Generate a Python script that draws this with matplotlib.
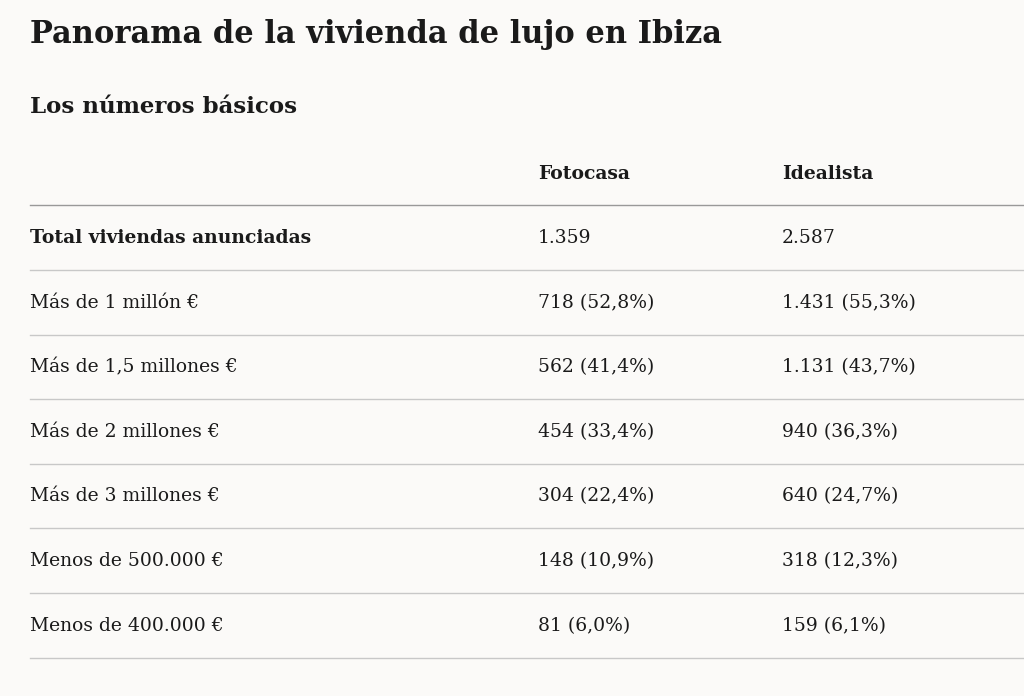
import matplotlib
matplotlib.use("Agg")
import matplotlib.pyplot as plt
from matplotlib.lines import Line2D

title = "Panorama de la vivienda de lujo en Ibiza"
subtitle = "Los números básicos"
columns = ["Fotocasa", "Idealista"]
rows = ["Total viviendas anunciadas", "Más de 1 millón €", "Más de 1,5 millones €",
        "Más de 2 millones €", "Más de 3 millones €", "Menos de 500.000 €", "Menos de 400.000 €"]
fotocasa = ["1.359", "718 (52,8%)", "562 (41,4%)", "454 (33,4%)", "304 (22,4%)", "148 (10,9%)", "81 (6,0%)"]
idealista = ["2.587", "1.431 (55,3%)", "1.131 (43,7%)", "940 (36,3%)", "640 (24,7%)", "318 (12,3%)", "159 (6,1%)"]

W, H = 1024, 696
bg = "#fbfaf8"
fig = plt.figure(figsize=(W/100, H/100), dpi=100, facecolor=bg)
fam = ["DejaVu Serif"]
col = "#1a1a1a"

def T(x, y, s, **kw):
    fig.text(x/W, 1-y/H, s, family=fam, color=col, va="center", ha="left", **kw)

def L(y, c="#c8c8c8", lw=1):
    fig.add_artist(Line2D([30/W, 1], [1-y/H]*2, color=c, lw=lw, transform=fig.transFigure))

T(30, 34, title, fontsize=22, weight="bold")
T(30, 107, subtitle, fontsize=16.5, weight="bold")
cx = [538, 782]
for x, c in zip(cx, columns):
    T(x, 174, c, fontsize=13.5, weight="bold")
L(205, "#999999")
y0, dy = 238, 64.6
for i, r in enumerate(rows):
    y = y0 + i*dy
    T(30, y, r, fontsize=13.5, weight="bold" if i == 0 else "normal")
    T(cx[0], y, fotocasa[i], fontsize=13.5)
    T(cx[1], y, idealista[i], fontsize=13.5)
    L(y + 32)
fig.savefig("out.png", facecolor=bg)
